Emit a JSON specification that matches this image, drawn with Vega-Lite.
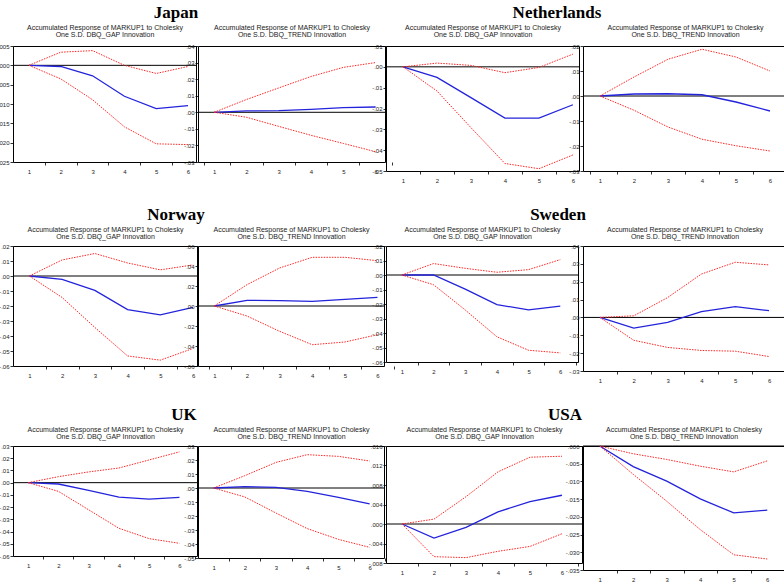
{
"$schema": "https://vega.github.io/schema/vega-lite/v6.json",
"padding": {"left": -6, "top": 3, "right": 0, "bottom": 0},
"background": "white",
"config": {
 "view": {"stroke": "#000", "strokeWidth": 1},
 "font": "Liberation Sans",
 "axis": {"domain": false, "grid": false, "labelFontSize": 6, "labelColor": "#222", "labelFont": "Liberation Sans", "tickColor": "#000", "tickSize": 3, "tickWidth": 0.8, "labelOverlap": false, "labelBound": false, "labelFlush": false, "tickCount": 30},
 "axisX": {"labelPadding": 3},
 "axisY": {"labelPadding": 1, "labelOverlap": false},
 "axisTop": {"labels": false, "ticks": false, "domain": false, "titleFont": "Liberation Sans", "titleFontSize": 7, "titleFontWeight": "normal", "titleColor": "#222", "titleLineHeight": 7, "titlePadding": 9},
 "title": {"font": "Liberation Serif", "fontSize": 17, "fontWeight": "bold", "color": "#000", "anchor": "middle", "frame": "group", "baseline": "alphabetic", "offset": 1}
},
"datasets": {
 "jp_gap": [
  {"t":1,"s":"r","v":0},{"t":2,"s":"r","v":-0.0003},{"t":3,"s":"r","v":-0.0027},{"t":4,"s":"r","v":-0.008},{"t":5,"s":"r","v":-0.0112},{"t":6,"s":"r","v":-0.0104},
  {"t":1,"s":"u","v":0},{"t":2,"s":"u","v":0.0034},{"t":3,"s":"u","v":0.0038},{"t":4,"s":"u","v":0.0},{"t":5,"s":"u","v":-0.0021},{"t":6,"s":"u","v":-0.0003},
  {"t":1,"s":"l","v":0},{"t":2,"s":"l","v":-0.0035},{"t":3,"s":"l","v":-0.0089},{"t":4,"s":"l","v":-0.0159},{"t":5,"s":"l","v":-0.0203},{"t":6,"s":"l","v":-0.0205}],
 "jp_trend": [
  {"t":1,"s":"r","v":0},{"t":2,"s":"r","v":0.0008},{"t":3,"s":"r","v":0.001},{"t":4,"s":"r","v":0.0018},{"t":5,"s":"r","v":0.0028},{"t":6,"s":"r","v":0.0032},
  {"t":1,"s":"u","v":0},{"t":2,"s":"u","v":0.0077},{"t":3,"s":"u","v":0.0147},{"t":4,"s":"u","v":0.0216},{"t":5,"s":"u","v":0.0271},{"t":6,"s":"u","v":0.03},
  {"t":1,"s":"l","v":0},{"t":2,"s":"l","v":-0.003},{"t":3,"s":"l","v":-0.0085},{"t":4,"s":"l","v":-0.0139},{"t":5,"s":"l","v":-0.0188},{"t":6,"s":"l","v":-0.0238}],
 "nl_gap": [
  {"t":1,"s":"r","v":0},{"t":2,"s":"r","v":-0.0051},{"t":3,"s":"r","v":-0.0148},{"t":4,"s":"r","v":-0.0246},{"t":5,"s":"r","v":-0.0246},{"t":6,"s":"r","v":-0.0182},
  {"t":1,"s":"u","v":0},{"t":2,"s":"u","v":0.0018},{"t":3,"s":"u","v":0.0007},{"t":4,"s":"u","v":-0.0028},{"t":5,"s":"u","v":-0.0003},{"t":6,"s":"u","v":0.0061},
  {"t":1,"s":"l","v":0},{"t":2,"s":"l","v":-0.0116},{"t":3,"s":"l","v":-0.0292},{"t":4,"s":"l","v":-0.0464},{"t":5,"s":"l","v":-0.0489},{"t":6,"s":"l","v":-0.0423}],
 "nl_trend": [
  {"t":1,"s":"r","v":0},{"t":2,"s":"r","v":0.0008},{"t":3,"s":"r","v":0.0009},{"t":4,"s":"r","v":0.0005},{"t":5,"s":"r","v":-0.0024},{"t":6,"s":"r","v":-0.006},
  {"t":1,"s":"u","v":0},{"t":2,"s":"u","v":0.0076},{"t":3,"s":"u","v":0.0147},{"t":4,"s":"u","v":0.0187},{"t":5,"s":"u","v":0.0156},{"t":6,"s":"u","v":0.01},
  {"t":1,"s":"l","v":0},{"t":2,"s":"l","v":-0.0057},{"t":3,"s":"l","v":-0.0124},{"t":4,"s":"l","v":-0.0173},{"t":5,"s":"l","v":-0.0199},{"t":6,"s":"l","v":-0.022}],
 "no_gap": [
  {"t":1,"s":"r","v":0},{"t":2,"s":"r","v":-0.0022},{"t":3,"s":"r","v":-0.0096},{"t":4,"s":"r","v":-0.0224},{"t":5,"s":"r","v":-0.0259},{"t":6,"s":"r","v":-0.0209},
  {"t":1,"s":"u","v":0},{"t":2,"s":"u","v":0.0107},{"t":3,"s":"u","v":0.015},{"t":4,"s":"u","v":0.0087},{"t":5,"s":"u","v":0.0041},{"t":6,"s":"u","v":0.0074},
  {"t":1,"s":"l","v":0},{"t":2,"s":"l","v":-0.0143},{"t":3,"s":"l","v":-0.0343},{"t":4,"s":"l","v":-0.0533},{"t":5,"s":"l","v":-0.0561},{"t":6,"s":"l","v":-0.0483}],
 "no_trend": [
  {"t":1,"s":"r","v":0},{"t":2,"s":"r","v":0.0057},{"t":3,"s":"r","v":0.0053},{"t":4,"s":"r","v":0.0047},{"t":5,"s":"r","v":0.0067},{"t":6,"s":"r","v":0.0087},
  {"t":1,"s":"u","v":0},{"t":2,"s":"u","v":0.0213},{"t":3,"s":"u","v":0.038},{"t":4,"s":"u","v":0.0487},{"t":5,"s":"u","v":0.0487},{"t":6,"s":"u","v":0.0453},
  {"t":1,"s":"l","v":0},{"t":2,"s":"l","v":-0.01},{"t":3,"s":"l","v":-0.0253},{"t":4,"s":"l","v":-0.0387},{"t":5,"s":"l","v":-0.036},{"t":6,"s":"l","v":-0.0287}],
 "se_gap": [
  {"t":1,"s":"r","v":0},{"t":2,"s":"r","v":0.0},{"t":3,"s":"r","v":-0.0097},{"t":4,"s":"r","v":-0.0204},{"t":5,"s":"r","v":-0.0241},{"t":6,"s":"r","v":-0.0215},
  {"t":1,"s":"u","v":0},{"t":2,"s":"u","v":0.0079},{"t":3,"s":"u","v":0.0046},{"t":4,"s":"u","v":0.0019},{"t":5,"s":"u","v":0.0037},{"t":6,"s":"u","v":0.0106},
  {"t":1,"s":"l","v":0},{"t":2,"s":"l","v":-0.0067},{"t":3,"s":"l","v":-0.0241},{"t":4,"s":"l","v":-0.0426},{"t":5,"s":"l","v":-0.0519},{"t":6,"s":"l","v":-0.0537}],
 "se_trend": [
  {"t":1,"s":"r","v":0},{"t":2,"s":"r","v":-0.006},{"t":3,"s":"r","v":-0.0028},{"t":4,"s":"r","v":0.0032},{"t":5,"s":"r","v":0.006},{"t":6,"s":"r","v":0.0038},
  {"t":1,"s":"u","v":0},{"t":2,"s":"u","v":0.0009},{"t":3,"s":"u","v":0.0111},{"t":4,"s":"u","v":0.0243},{"t":5,"s":"u","v":0.0309},{"t":6,"s":"u","v":0.0294},
  {"t":1,"s":"l","v":0},{"t":2,"s":"l","v":-0.0128},{"t":3,"s":"l","v":-0.0168},{"t":4,"s":"l","v":-0.0185},{"t":5,"s":"l","v":-0.0189},{"t":6,"s":"l","v":-0.0219}],
 "uk_gap": [
  {"t":1,"s":"r","v":0},{"t":2,"s":"r","v":-0.0011},{"t":3,"s":"r","v":-0.0063},{"t":4,"s":"r","v":-0.0118},{"t":5,"s":"r","v":-0.0134},{"t":6,"s":"r","v":-0.012},
  {"t":1,"s":"u","v":0},{"t":2,"s":"u","v":0.0049},{"t":3,"s":"u","v":0.0088},{"t":4,"s":"u","v":0.012},{"t":5,"s":"u","v":0.0186},{"t":6,"s":"u","v":0.0252},
  {"t":1,"s":"l","v":0},{"t":2,"s":"l","v":-0.0071},{"t":3,"s":"l","v":-0.0222},{"t":4,"s":"l","v":-0.0373},{"t":5,"s":"l","v":-0.0458},{"t":6,"s":"l","v":-0.0496}],
 "uk_trend": [
  {"t":1,"s":"r","v":0},{"t":2,"s":"r","v":0.001},{"t":3,"s":"r","v":0.0005},{"t":4,"s":"r","v":-0.0024},{"t":5,"s":"r","v":-0.0067},{"t":6,"s":"r","v":-0.0114},
  {"t":1,"s":"u","v":0},{"t":2,"s":"u","v":0.0088},{"t":3,"s":"u","v":0.0183},{"t":4,"s":"u","v":0.0238},{"t":5,"s":"u","v":0.0226},{"t":6,"s":"u","v":0.0193},
  {"t":1,"s":"l","v":0},{"t":2,"s":"l","v":-0.0064},{"t":3,"s":"l","v":-0.0179},{"t":4,"s":"l","v":-0.029},{"t":5,"s":"l","v":-0.0367},{"t":6,"s":"l","v":-0.0424}],
 "us_gap": [
  {"t":1,"s":"r","v":0},{"t":2,"s":"r","v":-0.0029},{"t":3,"s":"r","v":-0.0007},{"t":4,"s":"r","v":0.0025},{"t":5,"s":"r","v":0.0046},{"t":6,"s":"r","v":0.0059},
  {"t":1,"s":"u","v":0},{"t":2,"s":"u","v":0.001},{"t":3,"s":"u","v":0.0056},{"t":4,"s":"u","v":0.0107},{"t":5,"s":"u","v":0.0137},{"t":6,"s":"u","v":0.0139},
  {"t":1,"s":"l","v":0},{"t":2,"s":"l","v":-0.0067},{"t":3,"s":"l","v":-0.0069},{"t":4,"s":"l","v":-0.0056},{"t":5,"s":"l","v":-0.0046},{"t":6,"s":"l","v":-0.002}],
 "us_trend": [
  {"t":1,"s":"r","v":0},{"t":2,"s":"r","v":-0.0058},{"t":3,"s":"r","v":-0.0099},{"t":4,"s":"r","v":-0.0149},{"t":5,"s":"r","v":-0.0189},{"t":6,"s":"r","v":-0.0181},
  {"t":1,"s":"u","v":0},{"t":2,"s":"u","v":-0.0022},{"t":3,"s":"u","v":-0.0038},{"t":4,"s":"u","v":-0.0057},{"t":5,"s":"u","v":-0.0073},{"t":6,"s":"u","v":-0.0042},
  {"t":1,"s":"l","v":0},{"t":2,"s":"l","v":-0.008},{"t":3,"s":"l","v":-0.0156},{"t":4,"s":"l","v":-0.0236},{"t":5,"s":"l","v":-0.0307},{"t":6,"s":"l","v":-0.0319}]
},
"bounds": "flush",
"columns": 4,
"align": {"row": "each", "column": "none"},
"spacing": {"row": 75, "column": 1},
"concat": [
 {"width": 183, "height": 116, "data": {"name": "jp_gap"},
  "title": {"text": "Japan", "dx": 71.5},
  "layer": [
   {"data": {"values": [{}]}, "mark": {"type": "rule", "color": "#000", "strokeWidth": 1}, "encoding": {"y": {"datum": 0, "type": "quantitative", "scale": {"domain": [-0.025, 0.005], "nice": false, "zero": false}, "axis": {"values": [-0.025,-0.02,-0.015,-0.01,-0.005,0,0.005], "tickCount": 30, "labelOverlap": false, "labelExpr": "replace(replace(format(datum.value,'.3f'),'0.','.'),'\u2212','-')", "title": null}}}},
   {"transform": [{"filter": "datum.s == 'r'"}], "mark": {"type": "line", "color": "#2323dc", "strokeWidth": 1.3},
    "encoding": {"x": {"field": "t", "type": "quantitative", "scale": {"domain": [0.5, 6.25], "nice": false, "zero": false}, "axis": {"orient": "bottom", "values": [1,2,3,4,5,6], "tickCount": 30, "format": "d", "tickOffset": 15.9, "labelOffset": -15.9, "labelOverlap": false, "title": null}},
                 "y": {"field": "v", "type": "quantitative", "scale": {"domain": [-0.025, 0.005], "nice": false, "zero": false}, "axis": {"values": [-0.025,-0.02,-0.015,-0.01,-0.005,0,0.005], "tickCount": 30, "labelOverlap": false, "labelExpr": "replace(replace(format(datum.value,'.3f'),'0.','.'),'\u2212','-')", "title": null}}}},
   {"transform": [{"filter": "datum.s != 'r'"}], "mark": {"type": "line", "color": "#ff2626", "strokeWidth": 1, "strokeDash": [1.5, 1.2]},
    "encoding": {"x": {"field": "t", "type": "quantitative", "axis": {"orient": "top", "title": ["Accumulated Response of MARKUP1 to Cholesky", "One S.D. DBQ_GAP Innovation"], "titlePadding": 9}},
                 "y": {"field": "v", "type": "quantitative"}, "detail": {"field": "s"}}}
  ]},
 {"width": 187, "height": 116, "data": {"name": "jp_trend"},
  "layer": [
   {"data": {"values": [{}]}, "mark": {"type": "rule", "color": "#000", "strokeWidth": 1}, "encoding": {"y": {"datum": 0, "type": "quantitative", "scale": {"domain": [-0.03, 0.04], "nice": false, "zero": false}, "axis": {"values": [-0.03,-0.02,-0.01,0,0.01,0.02,0.03,0.04], "tickCount": 30, "labelOverlap": false, "labelExpr": "replace(replace(format(datum.value,'.2f'),'0.','.'),'\u2212','-')", "title": null}}}},
   {"transform": [{"filter": "datum.s == 'r'"}], "mark": {"type": "line", "color": "#2323dc", "strokeWidth": 1.3},
    "encoding": {"x": {"field": "t", "type": "quantitative", "scale": {"domain": [0.5, 6.29], "nice": false, "zero": false}, "axis": {"orient": "bottom", "values": [1,2,3,4,5,6], "tickCount": 30, "format": "d", "tickOffset": 16.15, "labelOffset": -16.15, "labelOverlap": false, "title": null}},
                 "y": {"field": "v", "type": "quantitative", "scale": {"domain": [-0.03, 0.04], "nice": false, "zero": false}, "axis": {"values": [-0.03,-0.02,-0.01,0,0.01,0.02,0.03,0.04], "tickCount": 30, "labelOverlap": false, "labelExpr": "replace(replace(format(datum.value,'.2f'),'0.','.'),'\u2212','-')", "title": null}}}},
   {"transform": [{"filter": "datum.s != 'r'"}], "mark": {"type": "line", "color": "#ff2626", "strokeWidth": 1, "strokeDash": [1.5, 1.2]},
    "encoding": {"x": {"field": "t", "type": "quantitative", "axis": {"orient": "top", "title": ["Accumulated Response of MARKUP1 to Cholesky", "One S.D. DBQ_TREND Innovation"], "titlePadding": 9}},
                 "y": {"field": "v", "type": "quantitative"}, "detail": {"field": "s"}}}
  ]},
 {"width": 193, "height": 125, "data": {"name": "nl_gap"},
  "title": {"text": "Netherlands", "dx": 74.5},
  "layer": [
   {"data": {"values": [{}]}, "mark": {"type": "rule", "color": "#000", "strokeWidth": 1}, "encoding": {"y": {"datum": 0, "type": "quantitative", "scale": {"domain": [-0.05, 0.01], "nice": false, "zero": false}, "axis": {"values": [-0.05,-0.04,-0.03,-0.02,-0.01,0,0.01], "tickCount": 30, "labelOverlap": false, "labelExpr": "replace(replace(format(datum.value,'.2f'),'0.','.'),'\u2212','-')", "title": null}}}},
   {"transform": [{"filter": "datum.s == 'r'"}], "mark": {"type": "line", "color": "#2323dc", "strokeWidth": 1.3},
    "encoding": {"x": {"field": "t", "type": "quantitative", "scale": {"domain": [0.5, 6.18], "nice": false, "zero": false}, "axis": {"orient": "bottom", "values": [1,2,3,4,5,6], "tickCount": 30, "format": "d", "tickOffset": 17, "labelOffset": -17, "labelOverlap": false, "title": null}},
                 "y": {"field": "v", "type": "quantitative", "scale": {"domain": [-0.05, 0.01], "nice": false, "zero": false}, "axis": {"values": [-0.05,-0.04,-0.03,-0.02,-0.01,0,0.01], "tickCount": 30, "labelOverlap": false, "labelExpr": "replace(replace(format(datum.value,'.2f'),'0.','.'),'\u2212','-')", "title": null}}}},
   {"transform": [{"filter": "datum.s != 'r'"}], "mark": {"type": "line", "color": "#ff2626", "strokeWidth": 1, "strokeDash": [1.5, 1.2]},
    "encoding": {"x": {"field": "t", "type": "quantitative", "axis": {"orient": "top", "title": ["Accumulated Response of MARKUP1 to Cholesky", "One S.D. DBQ_GAP Innovation"], "titlePadding": 9}},
                 "y": {"field": "v", "type": "quantitative"}, "detail": {"field": "s"}}}
  ]},
 {"width": 204, "height": 125, "data": {"name": "nl_trend"},
  "layer": [
   {"data": {"values": [{}]}, "mark": {"type": "rule", "color": "#000", "strokeWidth": 1}, "encoding": {"y": {"datum": 0, "type": "quantitative", "scale": {"domain": [-0.03, 0.02], "nice": false, "zero": false}, "axis": {"values": [-0.03,-0.02,-0.01,0,0.01,0.02], "tickCount": 30, "labelOverlap": false, "labelExpr": "replace(replace(format(datum.value,'.2f'),'0.','.'),'\u2212','-')", "title": null}}}},
   {"transform": [{"filter": "datum.s == 'r'"}], "mark": {"type": "line", "color": "#2323dc", "strokeWidth": 1.3},
    "encoding": {"x": {"field": "t", "type": "quantitative", "scale": {"domain": [0.5, 6.5], "nice": false, "zero": false}, "axis": {"orient": "bottom", "values": [1,2,3,4,5,6], "tickCount": 30, "format": "d", "tickOffset": 17, "labelOffset": -17, "labelOverlap": false, "title": null}},
                 "y": {"field": "v", "type": "quantitative", "scale": {"domain": [-0.03, 0.02], "nice": false, "zero": false}, "axis": {"values": [-0.03,-0.02,-0.01,0,0.01,0.02], "tickCount": 30, "labelOverlap": false, "labelExpr": "replace(replace(format(datum.value,'.2f'),'0.','.'),'\u2212','-')", "title": null}}}},
   {"transform": [{"filter": "datum.s != 'r'"}], "mark": {"type": "line", "color": "#ff2626", "strokeWidth": 1, "strokeDash": [1.5, 1.2]},
    "encoding": {"x": {"field": "t", "type": "quantitative", "axis": {"orient": "top", "title": ["Accumulated Response of MARKUP1 to Cholesky", "One S.D. DBQ_TREND Innovation"], "titlePadding": 9}},
                 "y": {"field": "v", "type": "quantitative"}, "detail": {"field": "s"}}}
  ]},
 {"width": 184, "height": 120, "data": {"name": "no_gap"},
  "title": {"text": "Norway", "dx": 71},
  "layer": [
   {"data": {"values": [{}]}, "mark": {"type": "rule", "color": "#000", "strokeWidth": 1}, "encoding": {"y": {"datum": 0, "type": "quantitative", "scale": {"domain": [-0.06, 0.02], "nice": false, "zero": false}, "axis": {"values": [-0.06,-0.05,-0.04,-0.03,-0.02,-0.01,0,0.01,0.02], "tickCount": 30, "labelOverlap": false, "labelExpr": "replace(replace(format(datum.value,'.2f'),'0.','.'),'\u2212','-')", "title": null}}}},
   {"transform": [{"filter": "datum.s == 'r'"}], "mark": {"type": "line", "color": "#2323dc", "strokeWidth": 1.3},
    "encoding": {"x": {"field": "t", "type": "quantitative", "scale": {"domain": [0.5, 6.12], "nice": false, "zero": false}, "axis": {"orient": "bottom", "values": [1,2,3,4,5,6], "tickCount": 30, "format": "d", "tickOffset": 16.4, "labelOffset": -16.4, "labelOverlap": false, "title": null}},
                 "y": {"field": "v", "type": "quantitative", "scale": {"domain": [-0.06, 0.02], "nice": false, "zero": false}, "axis": {"values": [-0.06,-0.05,-0.04,-0.03,-0.02,-0.01,0,0.01,0.02], "tickCount": 30, "labelOverlap": false, "labelExpr": "replace(replace(format(datum.value,'.2f'),'0.','.'),'\u2212','-')", "title": null}}}},
   {"transform": [{"filter": "datum.s != 'r'"}], "mark": {"type": "line", "color": "#ff2626", "strokeWidth": 1, "strokeDash": [1.5, 1.2]},
    "encoding": {"x": {"field": "t", "type": "quantitative", "axis": {"orient": "top", "title": ["Accumulated Response of MARKUP1 to Cholesky", "One S.D. DBQ_GAP Innovation"], "titlePadding": 7}},
                 "y": {"field": "v", "type": "quantitative"}, "detail": {"field": "s"}}}
  ]},
 {"width": 186, "height": 120, "data": {"name": "no_trend"},
  "layer": [
   {"data": {"values": [{}]}, "mark": {"type": "rule", "color": "#000", "strokeWidth": 1}, "encoding": {"y": {"datum": 0, "type": "quantitative", "scale": {"domain": [-0.06, 0.06], "nice": false, "zero": false}, "axis": {"values": [-0.06,-0.04,-0.02,0,0.02,0.04,0.06], "tickCount": 30, "labelOverlap": false, "labelExpr": "replace(replace(format(datum.value,'.2f'),'0.','.'),'\u2212','-')", "title": null}}}},
   {"transform": [{"filter": "datum.s == 'r'"}], "mark": {"type": "line", "color": "#2323dc", "strokeWidth": 1.3},
    "encoding": {"x": {"field": "t", "type": "quantitative", "scale": {"domain": [0.5, 6.2], "nice": false, "zero": false}, "axis": {"orient": "bottom", "values": [1,2,3,4,5,6], "tickCount": 30, "format": "d", "tickOffset": 16.3, "labelOffset": -16.3, "labelOverlap": false, "title": null}},
                 "y": {"field": "v", "type": "quantitative", "scale": {"domain": [-0.06, 0.06], "nice": false, "zero": false}, "axis": {"values": [-0.06,-0.04,-0.02,0,0.02,0.04,0.06], "tickCount": 30, "labelOverlap": false, "labelExpr": "replace(replace(format(datum.value,'.2f'),'0.','.'),'\u2212','-')", "title": null}}}},
   {"transform": [{"filter": "datum.s != 'r'"}], "mark": {"type": "line", "color": "#ff2626", "strokeWidth": 1, "strokeDash": [1.5, 1.2]},
    "encoding": {"x": {"field": "t", "type": "quantitative", "axis": {"orient": "top", "title": ["Accumulated Response of MARKUP1 to Cholesky", "One S.D. DBQ_TREND Innovation"], "titlePadding": 7}},
                 "y": {"field": "v", "type": "quantitative"}, "detail": {"field": "s"}}}
  ]},
 {"width": 192, "height": 116, "data": {"name": "se_gap"},
  "title": {"text": "Sweden", "dx": 76},
  "layer": [
   {"data": {"values": [{}]}, "mark": {"type": "rule", "color": "#000", "strokeWidth": 1}, "encoding": {"y": {"datum": 0, "type": "quantitative", "scale": {"domain": [-0.06, 0.02], "nice": false, "zero": false}, "axis": {"values": [-0.06,-0.05,-0.04,-0.03,-0.02,-0.01,0,0.01,0.02], "tickCount": 30, "labelOverlap": false, "labelExpr": "replace(replace(format(datum.value,'.2f'),'0.','.'),'\u2212','-')", "title": null}}}},
   {"transform": [{"filter": "datum.s == 'r'"}], "mark": {"type": "line", "color": "#2323dc", "strokeWidth": 1.3},
    "encoding": {"x": {"field": "t", "type": "quantitative", "scale": {"domain": [0.5, 6.56], "nice": false, "zero": false}, "axis": {"orient": "bottom", "values": [1,2,3,4,5,6], "tickCount": 30, "format": "d", "tickOffset": 15.85, "labelOffset": -15.85, "labelOverlap": false, "title": null}},
                 "y": {"field": "v", "type": "quantitative", "scale": {"domain": [-0.06, 0.02], "nice": false, "zero": false}, "axis": {"values": [-0.06,-0.05,-0.04,-0.03,-0.02,-0.01,0,0.01,0.02], "tickCount": 30, "labelOverlap": false, "labelExpr": "replace(replace(format(datum.value,'.2f'),'0.','.'),'\u2212','-')", "title": null}}}},
   {"transform": [{"filter": "datum.s != 'r'"}], "mark": {"type": "line", "color": "#ff2626", "strokeWidth": 1, "strokeDash": [1.5, 1.2]},
    "encoding": {"x": {"field": "t", "type": "quantitative", "axis": {"orient": "top", "title": ["Accumulated Response of MARKUP1 to Cholesky", "One S.D. DBQ_GAP Innovation"], "titlePadding": 7}},
                 "y": {"field": "v", "type": "quantitative"}, "detail": {"field": "s"}}}
  ]},
 {"width": 203, "height": 125, "data": {"name": "se_trend"},
  "layer": [
   {"data": {"values": [{}]}, "mark": {"type": "rule", "color": "#000", "strokeWidth": 1}, "encoding": {"y": {"datum": 0, "type": "quantitative", "scale": {"domain": [-0.03, 0.04], "nice": false, "zero": false}, "axis": {"values": [-0.03,-0.02,-0.01,0,0.01,0.02,0.03,0.04], "tickCount": 30, "labelOverlap": false, "labelExpr": "replace(replace(format(datum.value,'.2f'),'0.','.'),'\u2212','-')", "title": null}}}},
   {"transform": [{"filter": "datum.s == 'r'"}], "mark": {"type": "line", "color": "#2323dc", "strokeWidth": 1.3},
    "encoding": {"x": {"field": "t", "type": "quantitative", "scale": {"domain": [0.5, 6.5], "nice": false, "zero": false}, "axis": {"orient": "bottom", "values": [1,2,3,4,5,6], "tickCount": 30, "format": "d", "tickOffset": 16.9, "labelOffset": -16.9, "labelOverlap": false, "title": null}},
                 "y": {"field": "v", "type": "quantitative", "scale": {"domain": [-0.03, 0.04], "nice": false, "zero": false}, "axis": {"values": [-0.03,-0.02,-0.01,0,0.01,0.02,0.03,0.04], "tickCount": 30, "labelOverlap": false, "labelExpr": "replace(replace(format(datum.value,'.2f'),'0.','.'),'\u2212','-')", "title": null}}}},
   {"transform": [{"filter": "datum.s != 'r'"}], "mark": {"type": "line", "color": "#ff2626", "strokeWidth": 1, "strokeDash": [1.5, 1.2]},
    "encoding": {"x": {"field": "t", "type": "quantitative", "axis": {"orient": "top", "title": ["Accumulated Response of MARKUP1 to Cholesky", "One S.D. DBQ_TREND Innovation"], "titlePadding": 7}},
                 "y": {"field": "v", "type": "quantitative"}, "detail": {"field": "s"}}}
  ]},
 {"width": 184, "height": 110, "data": {"name": "uk_gap"},
  "title": {"text": "UK", "dx": 79},
  "layer": [
   {"data": {"values": [{}]}, "mark": {"type": "rule", "color": "#000", "strokeWidth": 1}, "encoding": {"y": {"datum": 0, "type": "quantitative", "scale": {"domain": [-0.06, 0.03], "nice": false, "zero": false}, "axis": {"values": [-0.06,-0.05,-0.04,-0.03,-0.02,-0.01,0,0.01,0.02,0.03], "tickCount": 30, "labelOverlap": false, "labelExpr": "replace(replace(format(datum.value,'.2f'),'0.','.'),'\u2212','-')", "title": null}}}},
   {"transform": [{"filter": "datum.s == 'r'"}], "mark": {"type": "line", "color": "#2323dc", "strokeWidth": 1.3},
    "encoding": {"x": {"field": "t", "type": "quantitative", "scale": {"domain": [0.5, 6.58], "nice": false, "zero": false}, "axis": {"orient": "bottom", "values": [1,2,3,4,5,6], "tickCount": 30, "format": "d", "tickOffset": 15.1, "labelOffset": -15.1, "labelOverlap": false, "title": null}},
                 "y": {"field": "v", "type": "quantitative", "scale": {"domain": [-0.06, 0.03], "nice": false, "zero": false}, "axis": {"values": [-0.06,-0.05,-0.04,-0.03,-0.02,-0.01,0,0.01,0.02,0.03], "tickCount": 30, "labelOverlap": false, "labelExpr": "replace(replace(format(datum.value,'.2f'),'0.','.'),'\u2212','-')", "title": null}}}},
   {"transform": [{"filter": "datum.s != 'r'"}], "mark": {"type": "line", "color": "#ff2626", "strokeWidth": 1, "strokeDash": [1.5, 1.2]},
    "encoding": {"x": {"field": "t", "type": "quantitative", "axis": {"orient": "top", "title": ["Accumulated Response of MARKUP1 to Cholesky", "One S.D. DBQ_GAP Innovation"], "titlePadding": 7}},
                 "y": {"field": "v", "type": "quantitative"}, "detail": {"field": "s"}}}
  ]},
 {"width": 186, "height": 112, "data": {"name": "uk_trend"},
  "layer": [
   {"data": {"values": [{}]}, "mark": {"type": "rule", "color": "#000", "strokeWidth": 1}, "encoding": {"y": {"datum": 0, "type": "quantitative", "scale": {"domain": [-0.05, 0.03], "nice": false, "zero": false}, "axis": {"values": [-0.05,-0.04,-0.03,-0.02,-0.01,0,0.01,0.02,0.03], "tickCount": 30, "labelOverlap": false, "labelExpr": "replace(replace(format(datum.value,'.2f'),'0.','.'),'\u2212','-')", "title": null}}}},
   {"transform": [{"filter": "datum.s == 'r'"}], "mark": {"type": "line", "color": "#2323dc", "strokeWidth": 1.3},
    "encoding": {"x": {"field": "t", "type": "quantitative", "scale": {"domain": [0.5, 6.46], "nice": false, "zero": false}, "axis": {"orient": "bottom", "values": [1,2,3,4,5,6], "tickCount": 30, "format": "d", "tickOffset": 15.6, "labelOffset": -15.6, "labelOverlap": false, "title": null}},
                 "y": {"field": "v", "type": "quantitative", "scale": {"domain": [-0.05, 0.03], "nice": false, "zero": false}, "axis": {"values": [-0.05,-0.04,-0.03,-0.02,-0.01,0,0.01,0.02,0.03], "tickCount": 30, "labelOverlap": false, "labelExpr": "replace(replace(format(datum.value,'.2f'),'0.','.'),'\u2212','-')", "title": null}}}},
   {"transform": [{"filter": "datum.s != 'r'"}], "mark": {"type": "line", "color": "#ff2626", "strokeWidth": 1, "strokeDash": [1.5, 1.2]},
    "encoding": {"x": {"field": "t", "type": "quantitative", "axis": {"orient": "top", "title": ["Accumulated Response of MARKUP1 to Cholesky", "One S.D. DBQ_TREND Innovation"], "titlePadding": 7}},
                 "y": {"field": "v", "type": "quantitative"}, "detail": {"field": "s"}}}
  ]},
 {"width": 196, "height": 117, "data": {"name": "us_gap"},
  "title": {"text": "USA", "dx": 81},
  "layer": [
   {"data": {"values": [{}]}, "mark": {"type": "rule", "color": "#000", "strokeWidth": 1}, "encoding": {"y": {"datum": 0, "type": "quantitative", "scale": {"domain": [-0.008, 0.016], "nice": false, "zero": false}, "axis": {"values": [-0.008,-0.004,0,0.004,0.008,0.012,0.016], "tickCount": 30, "labelOverlap": false, "labelExpr": "replace(replace(format(datum.value,'.3f'),'0.','.'),'\u2212','-')", "title": null}}}},
   {"transform": [{"filter": "datum.s == 'r'"}], "mark": {"type": "line", "color": "#2323dc", "strokeWidth": 1.3},
    "encoding": {"x": {"field": "t", "type": "quantitative", "scale": {"domain": [0.5, 6.625], "nice": false, "zero": false}, "axis": {"orient": "bottom", "values": [1,2,3,4,5,6], "tickCount": 30, "format": "d", "tickOffset": 16, "labelOffset": -16, "labelOverlap": false, "title": null}},
                 "y": {"field": "v", "type": "quantitative", "scale": {"domain": [-0.008, 0.016], "nice": false, "zero": false}, "axis": {"values": [-0.008,-0.004,0,0.004,0.008,0.012,0.016], "tickCount": 30, "labelOverlap": false, "labelExpr": "replace(replace(format(datum.value,'.3f'),'0.','.'),'\u2212','-')", "title": null}}}},
   {"transform": [{"filter": "datum.s != 'r'"}], "mark": {"type": "line", "color": "#ff2626", "strokeWidth": 1, "strokeDash": [1.5, 1.2]},
    "encoding": {"x": {"field": "t", "type": "quantitative", "axis": {"orient": "top", "title": ["Accumulated Response of MARKUP1 to Cholesky", "One S.D. DBQ_GAP Innovation"], "titlePadding": 7}},
                 "y": {"field": "v", "type": "quantitative"}, "detail": {"field": "s"}}}
  ]},
 {"width": 201, "height": 124, "data": {"name": "us_trend"},
  "layer": [
   {"data": {"values": [{}]}, "mark": {"type": "rule", "color": "#000", "strokeWidth": 1}, "encoding": {"y": {"datum": 0, "type": "quantitative", "scale": {"domain": [-0.035, 0.0], "nice": false, "zero": false}, "axis": {"values": [-0.035,-0.03,-0.025,-0.02,-0.015,-0.01,-0.005,0], "tickCount": 30, "labelOverlap": false, "labelExpr": "replace(replace(format(datum.value,'.3f'),'0.','.'),'\u2212','-')", "title": null}}}},
   {"transform": [{"filter": "datum.s == 'r'"}], "mark": {"type": "line", "color": "#2323dc", "strokeWidth": 1.3},
    "encoding": {"x": {"field": "t", "type": "quantitative", "scale": {"domain": [0.5, 6.5], "nice": false, "zero": false}, "axis": {"orient": "bottom", "values": [1,2,3,4,5,6], "tickCount": 30, "format": "d", "tickOffset": 16.75, "labelOffset": -16.75, "labelOverlap": false, "title": null}},
                 "y": {"field": "v", "type": "quantitative", "scale": {"domain": [-0.035, 0.0], "nice": false, "zero": false}, "axis": {"values": [-0.035,-0.03,-0.025,-0.02,-0.015,-0.01,-0.005,0], "tickCount": 30, "labelOverlap": false, "labelExpr": "replace(replace(format(datum.value,'.3f'),'0.','.'),'\u2212','-')", "title": null}}}},
   {"transform": [{"filter": "datum.s != 'r'"}], "mark": {"type": "line", "color": "#ff2626", "strokeWidth": 1, "strokeDash": [1.5, 1.2]},
    "encoding": {"x": {"field": "t", "type": "quantitative", "axis": {"orient": "top", "title": ["Accumulated Response of MARKUP1 to Cholesky", "One S.D. DBQ_TREND Innovation"], "titlePadding": 7}},
                 "y": {"field": "v", "type": "quantitative"}, "detail": {"field": "s"}}}
  ]}
]
}
